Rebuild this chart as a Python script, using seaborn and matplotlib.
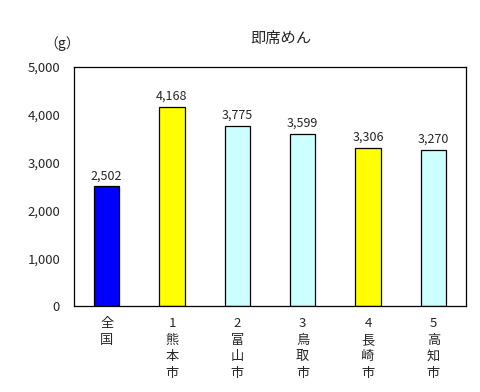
import matplotlib
matplotlib.use("Agg")
import matplotlib.pyplot as plt
import seaborn as sns
import pandas as pd
import numpy as np
from matplotlib.ticker import FuncFormatter, FixedLocator

categories = ["全国", "熊本市", "富山市", "鳥取市", "長崎市", "高知市"]
tick_labels = ["全\n国", "1\n熊\n本\n市", "2\n富\n山\n市", "3\n鳥\n取\n市", "4\n長\n崎\n市", "5\n高\n知\n市"]
values = [2502, 4168, 3775, 3599, 3306, 3270]
colors = ["#0000FF", "#FFFF00", "#CCFFFF", "#CCFFFF", "#FFFF00", "#CCFFFF"]

sns.set_style("white")
plt.rcParams['font.family'] = ['Noto Sans CJK JP', 'DejaVu Sans']

df = pd.DataFrame({"cat": categories, "val": values})

fig = plt.figure(figsize=(4.81, 3.92), dpi=100)
ax = fig.add_axes([74/481, 1-306/392, (466-74)/481, (306-67)/392])

sns.barplot(data=df, x="cat", y="val", hue="cat", palette=colors, legend=False,
            width=0.39, edgecolor="black", linewidth=0.9, ax=ax, saturation=1)

ax.set_xlim(-0.5, len(categories)-0.5)
ax.set_ylim(0, 5000)
ax.set_yticks(range(0, 5001, 1000))
ax.yaxis.set_major_formatter(FuncFormatter(lambda v, p: f"{int(v):,}"))
ax.set_xticks(range(len(categories)))
ax.set_xticklabels(tick_labels, fontsize=9.5, linespacing=1.36, va="top")
ax.xaxis.set_minor_locator(FixedLocator(np.arange(0.5, len(categories)-0.5, 1)))
ax.tick_params(axis="x", which="major", length=0, pad=8)
ax.tick_params(axis="x", which="minor", direction="in", length=4, width=0.9, color="black")
ax.tick_params(axis="y", which="major", direction="out", length=6, width=0.9, color="black",
               labelsize=9.5, pad=4)
ax.set_xlabel("")
ax.set_ylabel("")
for s in ax.spines.values():
    s.set_color("black")
    s.set_linewidth(0.9)
    s.set_visible(True)

for i, v in enumerate(values):
    ax.annotate(f"{v:,}", (i, v), xytext=(0, 3), textcoords="offset points",
                ha="center", va="bottom", fontsize=9)

fig.text(281/481, 1-38/392, "即席めん", ha="center", va="center", fontsize=11)
fig.text(62/481, 1-44/392, "（g）", ha="center", va="center", fontsize=10)

fig.savefig("out.png", dpi=100, facecolor="white")
